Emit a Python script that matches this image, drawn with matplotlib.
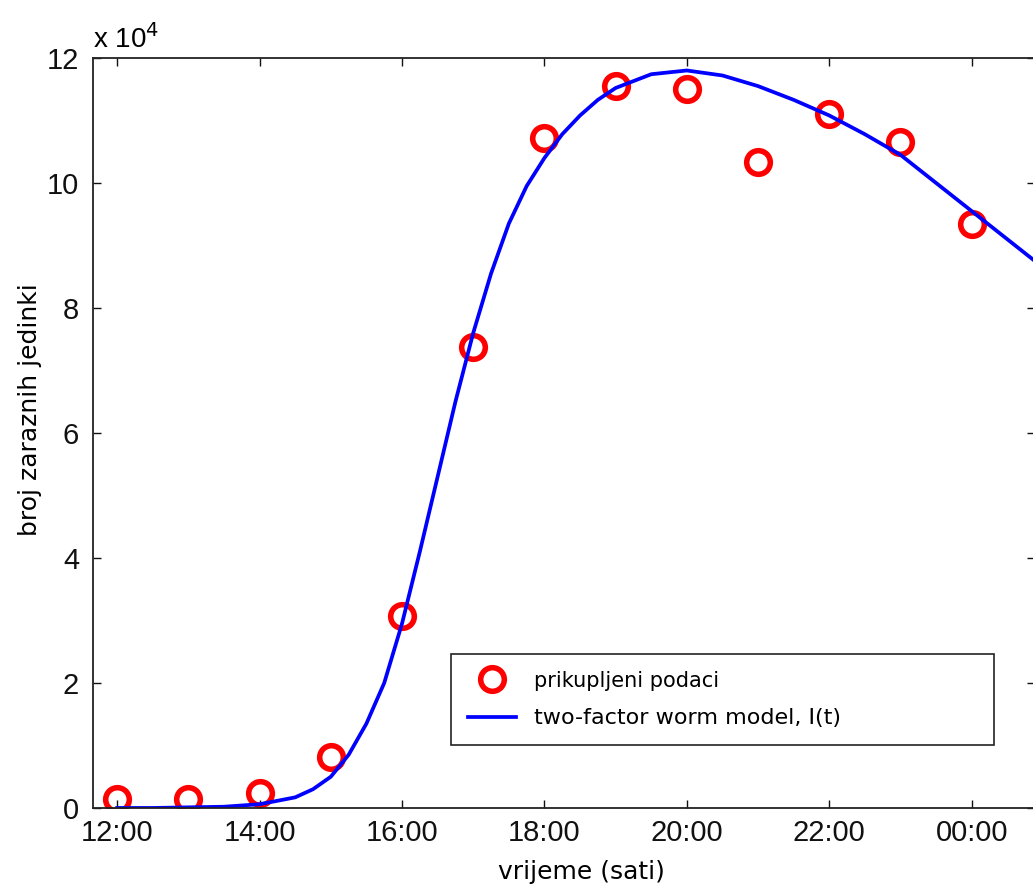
import numpy as np
import matplotlib.pyplot as plt

plt.rcParams['font.family'] = ['Liberation Sans', 'DejaVu Sans']

# measured data (hours, x 10^4 infected hosts)
sati = [12, 13, 14, 15, 16, 17, 18, 19, 20, 21, 22, 23, 24]
podaci = [0.14, 0.14, 0.24, 0.82, 3.07, 7.38, 10.72, 11.55, 11.5, 10.34, 11.1, 10.66, 9.34]

# two-factor worm model curve I(t)
t_model = [12, 12.5, 13, 13.5, 14, 14.5, 14.75, 15, 15.25, 15.5, 15.75, 16, 16.25,
           16.5, 16.75, 17, 17.25, 17.5, 17.75, 18, 18.25, 18.5, 18.75, 19, 19.5, 20,
           20.5, 21, 21.5, 22, 22.5, 23, 23.5, 24, 24.5, 25]
I_model = [0, 0, 0.01, 0.02, 0.06, 0.17, 0.3, 0.5, 0.85, 1.35, 2.0, 2.95, 4.1,
           5.3, 6.5, 7.6, 8.55, 9.35, 9.95, 10.4, 10.78, 11.08, 11.33, 11.52, 11.74, 11.8,
           11.72, 11.55, 11.33, 11.08, 10.78, 10.45, 10.0, 9.55, 9.1, 8.65]

xticks = [12, 14, 16, 18, 20, 22, 24]
xlabels = ['12:00', '14:00', '16:00', '18:00', '20:00', '22:00', '00:00']
yticks = [0, 2, 4, 6, 8, 10, 12]

fig = plt.figure(figsize=(10.33, 8.92), dpi=100)
ax = fig.add_axes([0.090, 0.0942, 0.912, 0.8408])

ax.plot(sati, podaci, 'o', color='#ff0000', mfc='none', ms=17, mew=4,
        label='prikupljeni podaci')
ax.plot(t_model, I_model, '-', color='#0000ff', lw=2.7,
        label='two-factor worm model, I(t)')

ax.set_xlim(11.66, 24.89)
ax.set_ylim(0, 12)
ax.set_xticks(xticks)
ax.set_xticklabels(xlabels)
ax.set_yticks(yticks)
ax.tick_params(direction='in', length=6, width=1, top=True, right=True,
               labelsize=21, pad=8, colors='#111111')
ax.tick_params(axis='y', pad=10)
for s in ax.spines.values():
    s.set_linewidth(1.3)
    s.set_color('#222222')

ax.set_xlabel('vrijeme (sati)', fontsize=18, family='DejaVu Sans', va='center')
ax.xaxis.set_label_coords(0.519, -0.0853)
ax.set_ylabel('broj zaraznih jedinki', fontsize=18, family='DejaVu Sans', va='center')
ax.yaxis.set_label_coords(-0.0669, 0.531)
fig.text(0.090, 0.940, 'x 10$^4$', fontsize=20, ha='left', va='bottom')

leg = ax.legend(loc='lower left', bbox_to_anchor=(0.4366, 0.1648, 0.5257, 0.104),
                bbox_transform=fig.transFigure, mode='expand', fancybox=False,
                framealpha=1, edgecolor='#222222', borderpad=0.8, borderaxespad=0,
                handlelength=2.3, handletextpad=0.9, labelspacing=0.85,
                prop={'family': 'DejaVu Sans', 'size': 15})
leg.get_frame().set_linewidth(1.2)
leg.get_texts()[1].set_fontsize(16)

fig.savefig('out.png', dpi=100)
